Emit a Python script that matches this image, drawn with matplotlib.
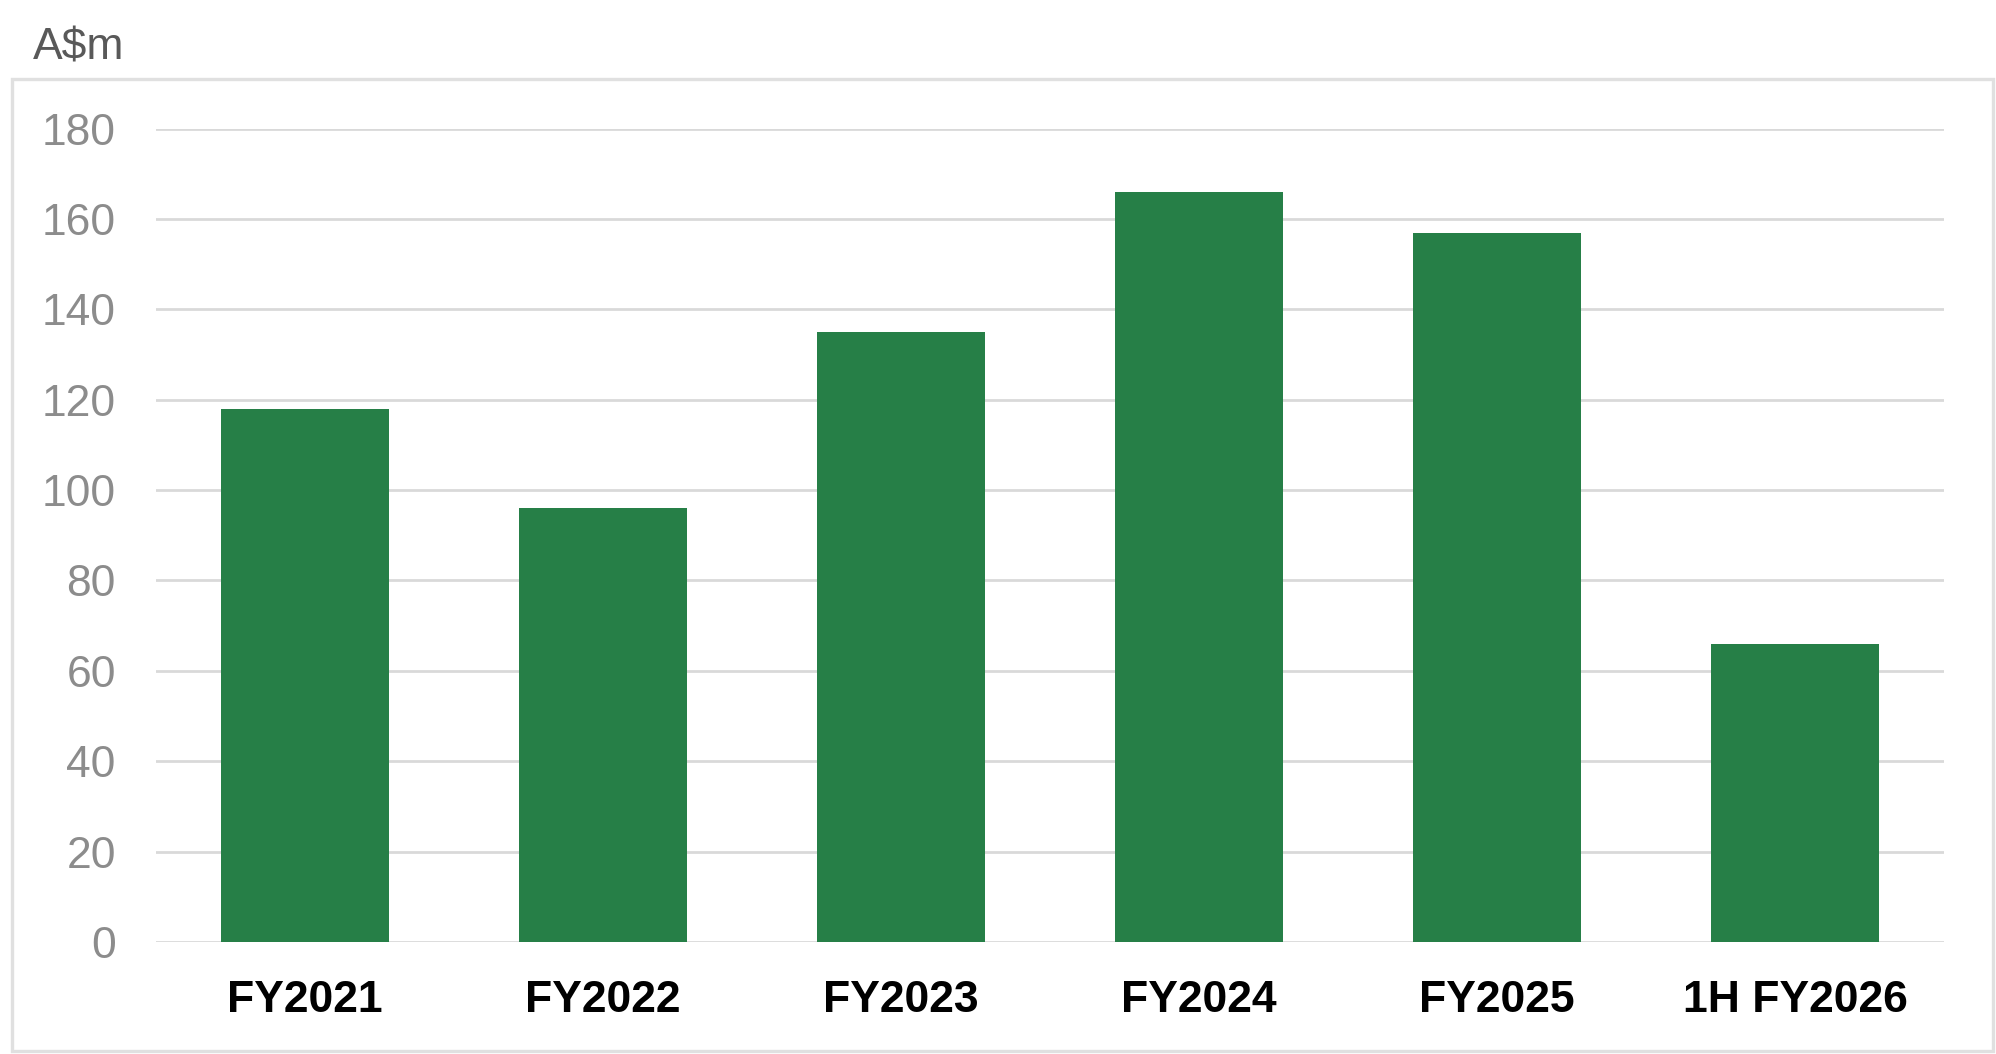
import matplotlib.pyplot as plt
from matplotlib.patches import Rectangle

plt.rcParams['font.family'] = ['Liberation Sans', 'DejaVu Sans']

# data
categories = ["FY2021", "FY2022", "FY2023", "FY2024", "FY2025", "1H FY2026"]
values = [118, 96, 135, 166, 157, 66]
y_ticks = [0, 20, 40, 60, 80, 100, 120, 140, 160, 180]

bar_color = "#267F47"
grid_color = "#D9D9D9"

fig = plt.figure(figsize=(19.96, 10.54), dpi=100)
ax = fig.add_axes([0.0782, 0.1063, 0.8958, 0.7717])

x = range(len(categories))
ax.bar(x, values, width=0.564, color=bar_color, zorder=3)

ax.set_xlim(-0.5, len(categories) - 0.5)
ax.set_ylim(0, 180)
ax.set_yticks(y_ticks)
ax.set_xticks(list(x))
ax.set_xticklabels(categories, fontsize=32, fontweight="bold", color="black")
ax.tick_params(axis="y", labelsize=32, labelcolor="#8C8C8C", length=0, pad=29)
ax.tick_params(axis="x", length=0, pad=27.5)

ax.yaxis.grid(True, color=grid_color, linewidth=2.0, zorder=0)
ax.set_axisbelow(True)
for s in ax.spines.values():
    s.set_visible(False)

# outer frame
fig.patches.append(Rectangle((11.5 / 1996, 3 / 1054), 1981 / 1996, 972 / 1054,
                             transform=fig.transFigure, fill=False,
                             edgecolor="#E0E0E0", linewidth=2.4, zorder=0))

fig.text(33 / 1996, 1 - 59 / 1054, "A$m", fontsize=32, color="#595959",
         ha="left", va="baseline")

fig.savefig("out.png", dpi=100)
